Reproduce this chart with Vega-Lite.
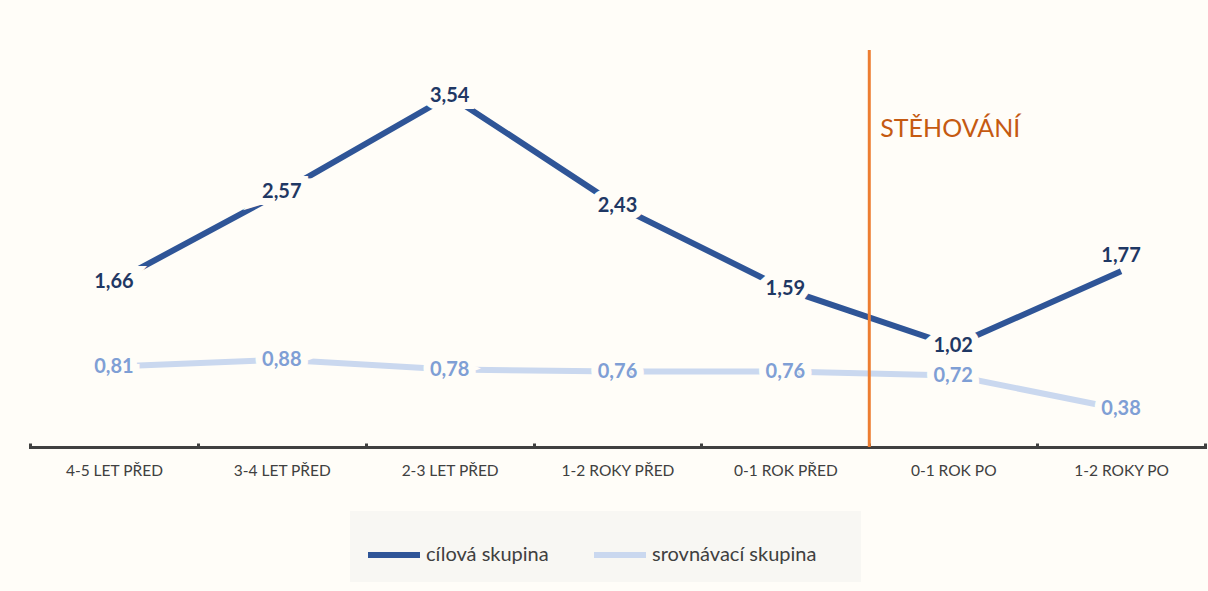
{
  "$schema": "https://vega.github.io/schema/vega-lite/v6.json",
  "width": 1175,
  "height": 397,
  "autosize": {"type": "none"},
  "padding": {"left": 30, "top": 50, "right": 3, "bottom": 144},
  "background": "#FFFDF8",
  "config": {
    "view": {"stroke": null},
    "font": "Lato",
    "legend": {"labelFont": "Lato"}
  },
  "datasets": {
    "main": [
      {"period": "4-5 LET PŘED", "group": "cílová skupina", "value": 1.66, "label": "1,66"},
      {"period": "3-4 LET PŘED", "group": "cílová skupina", "value": 2.57, "label": "2,57"},
      {"period": "2-3 LET PŘED", "group": "cílová skupina", "value": 3.54, "label": "3,54"},
      {"period": "1-2 ROKY PŘED", "group": "cílová skupina", "value": 2.43, "label": "2,43"},
      {"period": "0-1 ROK PŘED", "group": "cílová skupina", "value": 1.59, "label": "1,59"},
      {"period": "0-1 ROK PO", "group": "cílová skupina", "value": 1.02, "label": "1,02"},
      {"period": "1-2 ROKY PO", "group": "cílová skupina", "value": 1.77, "label": "1,77"},
      {"period": "4-5 LET PŘED", "group": "srovnávací skupina", "value": 0.81, "label": "0,81"},
      {"period": "3-4 LET PŘED", "group": "srovnávací skupina", "value": 0.88, "label": "0,88"},
      {"period": "2-3 LET PŘED", "group": "srovnávací skupina", "value": 0.78, "label": "0,78"},
      {"period": "1-2 ROKY PŘED", "group": "srovnávací skupina", "value": 0.76, "label": "0,76"},
      {"period": "0-1 ROK PŘED", "group": "srovnávací skupina", "value": 0.76, "label": "0,76"},
      {"period": "0-1 ROK PO", "group": "srovnávací skupina", "value": 0.72, "label": "0,72"},
      {"period": "1-2 ROKY PO", "group": "srovnávací skupina", "value": 0.38, "label": "0,38"}
    ],
    "event": [
      {"period": "0-1 ROK PO", "value": 3.2, "label": "STĚHOVÁNÍ"}
    ]
  },
  "encoding": {
    "x": {
      "field": "period",
      "type": "nominal",
      "sort": ["4-5 LET PŘED", "3-4 LET PŘED", "2-3 LET PŘED", "1-2 ROKY PŘED", "0-1 ROK PŘED", "0-1 ROK PO", "1-2 ROKY PO"],
      "scale": {"paddingInner": 0, "paddingOuter": 0},
      "axis": {
        "title": null,
        "labelAngle": 0,
        "labelFontSize": 15.5,
        "labelColor": "#404040",
        "labelPadding": 20,
        "domainColor": "#404040",
        "domainWidth": 3,
        "tickColor": "#404040",
        "tickWidth": 3,
        "tickSize": -4,
        "tickBand": "extent",
        "domainCap": "square"
      }
    }
  },
  "layer": [
    {
      "data": {"name": "main"},
      "mark": {"type": "line", "strokeWidth": 6},
      "encoding": {
        "y": {"field": "value", "type": "quantitative", "scale": {"domain": [0, 4]}, "axis": null},
        "color": {
          "field": "group",
          "type": "nominal",
          "sort": ["cílová skupina", "srovnávací skupina"],
          "scale": {"domain": ["cílová skupina", "srovnávací skupina"], "range": ["#2F5597", "#CAD8EF"]},
          "legend": {
            "title": " ",
            "titleOrient": "right",
            "titlePadding": 30,
            "orient": "none",
            "direction": "horizontal",
            "legendX": 320,
            "legendY": 461,
            "fillColor": "#F8F7F3",
            "padding": 15,
            "symbolType": "stroke",
            "symbolSize": 2704,
            "symbolStrokeWidth": 6,
            "labelFontSize": 20,
            "labelLimit": 400,
            "labelColor": "#404040",
            "labelOffset": 3,
            "columnPadding": 33
          }
        }
      }
    },
    {
      "data": {"name": "event"},
      "mark": {"type": "rule", "color": "#ED7D31", "strokeWidth": 3},
      "encoding": {
        "x": {"field": "period", "type": "nominal", "bandPosition": 0}
      }
    },
    {
      "data": {"name": "event"},
      "mark": {"type": "text", "color": "#C55A11", "fontSize": 25, "align": "left", "baseline": "middle", "dx": 11},
      "encoding": {
        "x": {"field": "period", "type": "nominal", "bandPosition": 0},
        "y": {"field": "value", "type": "quantitative"},
        "text": {"field": "label"}
      }
    },
    {
      "data": {"name": "main"},
      "transform": [{"filter": "datum.label !== '1,77'"}],
      "mark": {"type": "text", "fontSize": 20, "fontWeight": "bold", "baseline": "middle", "stroke": "#FFFDF8", "strokeWidth": 14, "strokeJoin": "miter"},
      "encoding": {
        "y": {"field": "value", "type": "quantitative"},
        "text": {"field": "label"}
      }
    },
    {
      "data": {"name": "main"},
      "transform": [{"filter": "datum.label !== '1,77'"}],
      "mark": {"type": "text", "fontSize": 20, "fontWeight": "bold", "baseline": "middle"},
      "encoding": {
        "y": {"field": "value", "type": "quantitative"},
        "text": {"field": "label"},
        "color": {
          "condition": {"test": "datum.group === 'cílová skupina'", "value": "#1F3864"},
          "value": "#7F9FD5"
        }
      }
    },
    {
      "data": {"name": "main"},
      "transform": [{"filter": "datum.label === '1,77'"}],
      "mark": {"type": "text", "fontSize": 20, "fontWeight": "bold", "baseline": "middle", "dy": -15, "color": "#1F3864"},
      "encoding": {
        "y": {"field": "value", "type": "quantitative"},
        "text": {"field": "label"}
      }
    }
  ]
}
